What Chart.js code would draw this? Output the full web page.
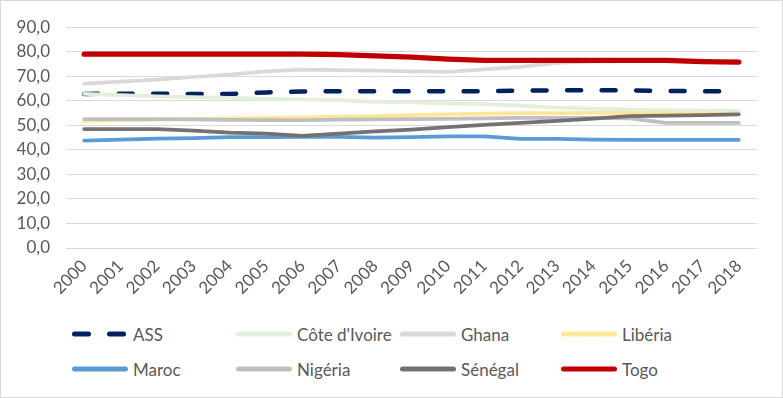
<!DOCTYPE html>
<html>
<head>
<meta charset="utf-8">
<script src="https://cdn.jsdelivr.net/npm/chart.js@4/dist/chart.umd.min.js"></script>
<style>
    body { margin: 0; background: #fff; font-family: Lato, sans-serif; }
    #frame { position: relative; width: 781px; height: 396px; border: 1px solid #d9d9d9; background: #fff; }
    #chartBox { position: absolute; left: 0; top: 0; width: 781px; height: 310px; }
    .legend-item { position: absolute; height: 20px; display: flex; align-items: center; color: #595959; font-size: 17px; white-space: nowrap; }
    .legend-item svg { margin-right: 5px; }
</style>
</head>
<body>
<div id="frame">
    <div id="chartBox"><canvas id="lineChart"></canvas></div>
    <div id="legendBox"></div>
</div>
<script>
/************************
 *      Data
 ************************/
const YEARS = ["2000", "2001", "2002", "2003", "2004", "2005", "2006", "2007", "2008", "2009",
    "2010", "2011", "2012", "2013", "2014", "2015", "2016", "2017", "2018"]

const ASS = [62.8, 62.9, 62.9, 62.8, 62.8, 63.4, 63.8, 63.9, 63.9, 63.9, 63.9, 63.9, 64.1, 64.3, 64.3, 64.3, 64.0, 63.9, 63.9]
const COTE_IVOIRE = [62.8, 62.3, 61.8, 61.5, 61.2, 60.8, 60.6, 60.3, 59.6, 59.4, 59.0, 58.6, 58.0, 57.2, 56.8, 56.4, 56.1, 56.0, 55.9]
const GHANA = [67.0, 67.8, 68.6, 69.7, 70.7, 72.0, 72.7, 72.5, 72.3, 72.0, 71.8, 72.8, 73.8, 75.5, 76.1, 76.2, 76.2, 76.0, 75.8]
const LIBERIA = [51.8, 52.0, 52.3, 52.6, 52.8, 53.0, 53.2, 53.5, 53.8, 54.2, 54.5, 54.8, 55.0, 55.0, 55.1, 55.1, 55.0, 54.8, 54.7]
const MAROC = [43.8, 44.2, 44.6, 44.8, 45.2, 45.2, 45.3, 45.3, 45.0, 45.2, 45.5, 45.5, 44.5, 44.5, 44.2, 44.1, 44.1, 44.1, 44.1]
const NIGERIA = [52.5, 52.5, 52.5, 52.4, 52.2, 52.1, 52.1, 52.3, 52.4, 52.5, 52.6, 52.8, 53.0, 53.0, 53.0, 52.8, 51.0, 51.0, 51.0]
const SENEGAL = [48.5, 48.5, 48.5, 47.8, 47.0, 46.6, 45.7, 46.6, 47.5, 48.3, 49.3, 50.2, 51.0, 51.8, 52.7, 53.8, 54.0, 54.2, 54.5]
const TOGO = [79.0, 79.0, 79.0, 79.0, 79.0, 79.0, 79.0, 78.8, 78.3, 77.8, 77.0, 76.5, 76.5, 76.5, 76.5, 76.5, 76.5, 76.0, 75.8]

const Y_MIN = 0
const Y_MAX = 90
const Y_STEP = 10

/************************
 *      Method
 ************************/
const TEXT_COLOR = "#595959"
const GRID_COLOR = "#d9d9d9"

const makeSeries = (label, data, color, width, dash) => ({
    label: label,
    data: data,
    borderColor: color,
    backgroundColor: color,
    borderWidth: width,
    borderDash: dash || [],
    borderCapStyle: "round",
    borderJoinStyle: "round",
    pointRadius: 0,
    tension: 0,
    fill: false
})

const buildDatasets = () => {
    const list = [
        makeSeries("ASS", ASS, "#002060", 4.5, [14, 20.5]),
        makeSeries("Côte d'Ivoire", COTE_IVOIRE, "#e2efda", 3.75),
        makeSeries("Ghana", GHANA, "#d9d9d9", 3.75),
        makeSeries("Libéria", LIBERIA, "#ffe699", 3.75),
        makeSeries("Maroc", MAROC, "#5b9bd5", 3.75),
        makeSeries("Nigéria", NIGERIA, "#bfbfbf", 3.75),
        makeSeries("Sénégal", SENEGAL, "#767171", 3.75),
        makeSeries("Togo", TOGO, "#c00000", 5.25)
    ]
    // excel paints the later series on top
    list.forEach((ds, i) => { ds.order = list.length - 1 - i })
    return list
}

const createLegend = (datasets) => {
    const legendBox = document.querySelector("#legendBox")
    const columns = [71, 235, 399, 560]
    const rows = [323, 358]
    datasets.forEach((ds, i) => {
        const item = document.createElement("div")
        item.className = "legend-item"
        item.style.left = columns[i % 4] + "px"
        item.style.top = rows[Math.floor(i / 4)] + "px"

        const ns = "http://www.w3.org/2000/svg"
        const svg = document.createElementNS(ns, "svg")
        svg.setAttribute("width", "56")
        svg.setAttribute("height", "10")
        const line = document.createElementNS(ns, "line")
        line.setAttribute("x1", "2.5")
        line.setAttribute("x2", "53.5")
        line.setAttribute("y1", "5")
        line.setAttribute("y2", "5")
        line.setAttribute("stroke", ds.borderColor)
        line.setAttribute("stroke-width", 5)
        line.setAttribute("stroke-linecap", "round")
        if (ds.borderDash.length) line.setAttribute("stroke-dasharray", "14 21")
        svg.append(line)

        const textEle = document.createElement("span")
        textEle.textContent = ds.label

        item.append(svg)
        item.append(textEle)
        legendBox.append(item)
    })
}

const createChart = () => {
    const datasets = buildDatasets()
    new Chart("lineChart", {
        type: "line",
        data: { labels: YEARS, datasets: datasets },
        options: {
            responsive: true,
            maintainAspectRatio: false,
            animation: false,
            layout: { padding: { left: 0, right: 25, top: 22, bottom: 0 } },
            plugins: {
                legend: { display: false },
                tooltip: { enabled: false }
            },
            scales: {
                x: {
                    offset: true,
                    grid: { display: false, drawTicks: false },
                    border: { display: false },
                    ticks: {
                        color: TEXT_COLOR,
                        font: { family: "Lato", size: 17 },
                        minRotation: 45,
                        maxRotation: 45,
                        padding: 8,
                        autoSkip: false
                    },
                    afterFit: (scale) => { scale.height = 63 }
                },
                y: {
                    min: Y_MIN,
                    max: Y_MAX,
                    grid: { color: GRID_COLOR, lineWidth: 1, drawTicks: false },
                    border: { display: false },
                    ticks: {
                        stepSize: Y_STEP,
                        color: TEXT_COLOR,
                        font: { family: "Lato", size: 17 },
                        padding: 16,
                        callback: (v) => v.toFixed(1).replace(".", ",")
                    },
                    afterFit: (scale) => { scale.width = 65 }
                }
            }
        }
    })
    createLegend(datasets)
}

createChart()
</script>
</body>
</html>
